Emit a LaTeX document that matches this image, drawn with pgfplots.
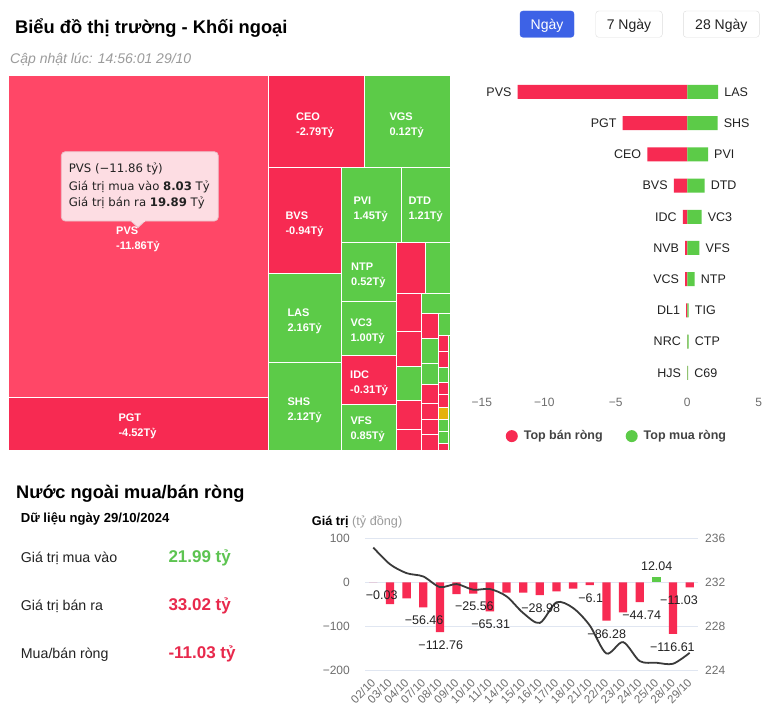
\documentclass[border=0pt]{standalone}
\usepackage{fontspec}
\setmainfont{Liberation Sans}
\newfontfamily\dejavu{DejaVu Sans}
\usepackage{pgfplots}
\pgfplotsset{compat=1.18}
\definecolor{tred}{HTML}{F72A52}
\definecolor{tredh}{HTML}{FF4767}
\definecolor{tgreen}{HTML}{5CCB48}
\definecolor{tyel}{HTML}{E5B20A}
\definecolor{blu}{HTML}{3D62E6}
\definecolor{txtgray}{HTML}{6E6E6E}
\definecolor{lightgray2}{HTML}{9B9B9B}
\definecolor{gridc}{HTML}{E0E6F1}
\definecolor{darktxt}{HTML}{222222}
\definecolor{tipfill}{HTML}{FDDDE3}
\definecolor{tipborder}{HTML}{EBBFC8}
\definecolor{btnborder}{HTML}{DDDDDD}
\definecolor{linec}{HTML}{3A3A3A}
\definecolor{valgreen}{HTML}{5DC451}
\definecolor{valred}{HTML}{E8294C}
\newcommand{\fs}[1]{\fontsize{#1}{#1}\selectfont}
\newcommand{\R}[5]{\addplot[fill=#5, draw=white, line width=0.8pt] coordinates {(#1,#2) (#3,#2) (#3,#4) (#1,#4) (#1,#2)};}
\newcommand{\TL}[4]{\node[anchor=base west, font={\bfseries\fs{11}}, text=white, inner sep=0pt] at (axis cs:#1,#2) {#3};
\node[anchor=base west, font={\bfseries\fs{11}}, text=white, inner sep=0pt] at (axis cs:#1,{#2+15}) {#4};}
\newcommand{\LL}[3]{\node[anchor=east, xshift=-6pt, font=\fs{12.5}, text=darktxt, inner sep=0pt] at (axis cs:#1,#2) {#3};}
\newcommand{\RL}[3]{\node[anchor=west, xshift=6pt, font=\fs{12.5}, text=darktxt, inner sep=0pt] at (axis cs:#1,#2) {#3};}
\newcommand{\VL}[3]{\node[font=\fs{12.5}, text=darktxt, inner sep=0pt] at (axis cs:#1,#2) {#3};}
\begin{document}
\begin{tikzpicture}
% ---------------- page axis (pixel coordinates) ----------------
\begin{axis}[at={(0pt,0pt)}, anchor=south west, scale only axis, width=770pt, height=717pt,
  xmin=0, xmax=770, ymin=0, ymax=717, y dir=reverse, hide axis, clip=false]
\fill[white] (axis cs:0,0) rectangle (axis cs:770,717);
% header
\node[anchor=base west, font={\bfseries\fs{18.3}}, text=black, inner sep=0pt] at (axis cs:15,33.3) {Biểu đồ thị trường - Khối ngoại};
\node[anchor=base west, font={\itshape\fs{14}}, text=lightgray2, inner sep=0pt] at (axis cs:10,63.3) {Cập nhật lúc: 14:56:01 29/10};
\filldraw[fill=blu, draw=blu, rounded corners=3pt] (axis cs:520,11) rectangle (axis cs:574,37.3);
\node[anchor=base, font=\fs{14}, text=white, inner sep=0pt] at (axis cs:547,29.5) {Ngày};
\filldraw[fill=white, draw=btnborder, rounded corners=3pt] (axis cs:595.7,11) rectangle (axis cs:662.3,37.3);
\node[anchor=base, font=\fs{14}, text=darktxt, inner sep=0pt] at (axis cs:629,29.5) {7 Ngày};
\filldraw[fill=white, draw=btnborder, rounded corners=3pt] (axis cs:683.3,11) rectangle (axis cs:759.3,37.3);
\node[anchor=base, font=\fs{14}, text=darktxt, inner sep=0pt] at (axis cs:721.3,29.5) {28 Ngày};
% treemap
\R{8}{75}{268}{397}{tredh}
\R{8}{397}{268}{450}{tred}
\R{268}{75}{364}{167}{tred}
\R{364}{75}{450}{167}{tgreen}
\R{268}{167}{341}{273}{tred}
\R{341}{167}{401}{242}{tgreen}
\R{401}{167}{450}{242}{tgreen}
\R{268}{273}{341}{362}{tgreen}
\R{268}{362}{341}{450}{tgreen}
\R{341}{242}{396}{301}{tgreen}
\R{341}{301}{396}{355}{tgreen}
\R{341}{355}{396}{404}{tred}
\R{341}{404}{396}{450}{tgreen}
\R{396}{242}{425}{293}{tred}
\R{425}{242}{450}{293}{tgreen}
\R{396}{293}{421}{331}{tred}
\R{421}{293}{450}{313}{tgreen}
\R{421}{313}{438}{338}{tred}
\R{438}{313}{450}{335}{tgreen}
\R{396}{331}{421}{366}{tred}
\R{438}{335}{448}{351}{tred}
\R{438}{351}{448}{367}{tred}
\R{421}{338}{438}{363}{tgreen}
\R{396}{366}{421}{400}{tgreen}
\R{421}{363}{438}{384}{tgreen}
\R{438}{367}{448}{382}{tgreen}
\R{421}{384}{438}{403}{tred}
\R{438}{382}{448}{394}{tred}
\R{438}{394}{448}{407}{tred}
\R{438}{407}{448}{419}{tyel}
\R{396}{400}{421}{429}{tred}
\R{396}{429}{421}{450}{tred}
\R{421}{403}{438}{419}{tred}
\R{421}{419}{438}{434}{tred}
\R{421}{434}{438}{450}{tred}
\R{438}{419}{448}{431}{tgreen}
\R{438}{431}{448}{443}{tgreen}
\R{438}{443}{448}{450}{tred}
\R{448}{335}{450}{450}{tgreen}
% treemap labels
\TL{116}{234.3}{PVS}{-11.86Tỷ}
\TL{118.3}{421.5}{PGT}{-4.52Tỷ}
\TL{296}{120.9}{CEO}{-2.79Tỷ}
\TL{389.3}{120.9}{VGS}{0.12Tỷ}
\TL{285.3}{219.2}{BVS}{-0.94Tỷ}
\TL{353.3}{204.2}{PVI}{1.45Tỷ}
\TL{408.3}{204.2}{DTD}{1.21Tỷ}
\TL{351}{270.2}{NTP}{0.52Tỷ}
\TL{287.3}{316.9}{LAS}{2.16Tỷ}
\TL{350.3}{326.9}{VC3}{1.00Tỷ}
\TL{350}{378.2}{IDC}{-0.31Tỷ}
\TL{287.3}{405.2}{SHS}{2.12Tỷ}
\TL{350.3}{424.2}{VFS}{0.85Tỷ}
% tooltip
\filldraw[fill=tipfill, draw=tipborder, rounded corners=4pt, line width=0.8pt] (axis cs:61.3,151.7) rectangle (axis cs:218.3,221);
\filldraw[fill=tipfill, draw=tipborder, line width=0.8pt] (axis cs:131,221) -- (axis cs:138,227.5) -- (axis cs:145,221);
\fill[tipfill] (axis cs:131.5,219.8) rectangle (axis cs:144.5,221.6);
\node[anchor=base west, font={\dejavu\fs{11.7}}, text=darktxt, inner sep=0pt] at (axis cs:68.7,172) {PVS (−11.86 tỷ)};
\node[anchor=base west, font={\dejavu\fs{11.7}}, text=darktxt, inner sep=0pt] at (axis cs:68.7,190) {Giá trị mua vào \textbf{8.03} Tỷ};
\node[anchor=base west, font={\dejavu\fs{11.7}}, text=darktxt, inner sep=0pt] at (axis cs:68.7,206.7) {Giá trị bán ra \textbf{19.89} Tỷ};
% bottom-left block
\node[anchor=base west, font={\bfseries\fs{18.2}}, text=black, inner sep=0pt] at (axis cs:16,498.3) {Nước ngoài mua/bán ròng};
\node[anchor=base west, font={\bfseries\fs{13.1}}, text=black, inner sep=0pt] at (axis cs:20.7,522.7) {Dữ liệu ngày 29/10/2024};
\node[anchor=base west, font=\fs{14.2}, text=darktxt, inner sep=0pt] at (axis cs:20.7,562.5) {Giá trị mua vào};
\node[anchor=base west, font={\bfseries\fs{17}}, text=valgreen, inner sep=0pt] at (axis cs:168.3,562.5) {21.99 tỷ};
\node[anchor=base west, font=\fs{14.2}, text=darktxt, inner sep=0pt] at (axis cs:20.7,610.7) {Giá trị bán ra};
\node[anchor=base west, font={\bfseries\fs{17}}, text=valred, inner sep=0pt] at (axis cs:168.3,610.7) {33.02 tỷ};
\node[anchor=base west, font=\fs{14.2}, text=darktxt, inner sep=0pt] at (axis cs:20.7,658.5) {Mua/bán ròng};
\node[anchor=base west, font={\bfseries\fs{17}}, text=valred, inner sep=0pt] at (axis cs:168.3,658.5) {-11.03 tỷ};
\node[anchor=base west, font=\fs{12.7}, text=black, inner sep=0pt] at (axis cs:311.7,525.5) {\textbf{Giá trị} \textcolor{lightgray2}{(tỷ đồng)}};
\end{axis}
% ---------------- top buy/sell horizontal bars ----------------
\begin{axis}[at={(472.8pt,328.6pt)}, anchor=south west, scale only axis, width=286pt, height=312pt,
  xmin=-15, xmax=5, ymin=-0.5, ymax=9.5, y dir=reverse, clip=false,
  axis line style={draw=none}, major tick length=0pt, ytick=\empty,
  xtick={-15,-10,-5,0,5}, xticklabels={\hspace{18pt}−15,−10,−5,0,5\hspace{6pt}},
  xticklabel style={font=\fs{12}, text=txtgray, inner sep=0pt, yshift=-10pt},
  legend style={at={(axis cs:-4.92,11.03)}, anchor=center, draw=none, fill=none, font={\bfseries\fs{12.5}}, text=darktxt!85,
    legend columns=2, /tikz/every even column/.append style={column sep=21pt}},
  legend cell align=left]
\addplot[xbar, bar width=14pt, bar shift=0pt, fill=tred, draw=none, forget plot] coordinates {(-11.86,0) (-4.52,1) (-2.79,2) (-0.94,3) (-0.31,4) (-0.15,5) (-0.15,6) (-0.08,7) (-0.02,8) (-0.01,9)};
\addplot[xbar, bar width=14pt, bar shift=0pt, fill=tgreen, draw=none, forget plot] coordinates {(2.16,0) (2.12,1) (1.45,2) (1.21,3) (1.00,4) (0.85,5) (0.52,6) (0.10,7) (0.10,8) (0.06,9)};
\addlegendimage{legend image code/.code={\path[draw=none, fill=none] (-6pt,-6pt) rectangle (10pt,6pt); \fill[tred, draw=none] (0pt,0pt) circle (6pt);}}
\addlegendentry{Top bán ròng}
\addlegendimage{legend image code/.code={\path[draw=none, fill=none] (-6pt,-6pt) rectangle (10pt,6pt); \fill[tgreen, draw=none] (0pt,0pt) circle (6pt);}}
\addlegendentry{Top mua ròng}
\LL{-11.86}{0}{PVS}\LL{-4.52}{1}{PGT}\LL{-2.79}{2}{CEO}\LL{-0.94}{3}{BVS}\LL{-0.31}{4}{IDC}
\LL{-0.15}{5}{NVB}\LL{-0.15}{6}{VCS}\LL{-0.08}{7}{DL1}\LL{-0.02}{8}{NRC}\LL{-0.01}{9}{HJS}
\RL{2.16}{0}{LAS}\RL{2.12}{1}{SHS}\RL{1.45}{2}{PVI}\RL{1.21}{3}{DTD}\RL{1.00}{4}{VC3}
\RL{0.85}{5}{VFS}\RL{0.52}{6}{NTP}\RL{0.10}{7}{TIG}\RL{0.10}{8}{CTP}\RL{0.06}{9}{C69}
\end{axis}
% ---------------- bottom: net value bars ----------------
\begin{axis}[at={(365pt,46.3pt)}, anchor=south west, scale only axis, width=333pt, height=132.4pt,
  xmin=-0.5, xmax=19.5, ymin=-200, ymax=100, clip=false,
  axis line style={draw=none}, major tick length=0pt,
  ytick={-200,-100,0,100}, yticklabels={−200,−100,0,100},
  ymajorgrids, grid style={gridc, line width=0.8pt},
  xtick={0,...,19},
  xticklabels={02/10,03/10,04/10,07/10,08/10,09/10,10/10,11/10,14/10,15/10,16/10,17/10,18/10,21/10,22/10,23/10,24/10,25/10,28/10,29/10},
  xticklabel style={rotate=45, anchor=east, font=\fs{11.5}, text=txtgray, inner sep=0pt},
  xticklabel shift=10pt,
  yticklabel style={font=\fs{12}, text=txtgray, inner sep=0pt, xshift=-15pt}]
\addplot[ybar, bar width=8.3pt, bar shift=0pt, fill=tred, draw=none] coordinates {(0,-0.03) (1,-48.9) (2,-36.1) (3,-56.46) (4,-112.76) (5,-26.3) (6,-25.56) (7,-65.31) (8,-23.3) (9,-23.3) (10,-28.98) (11,-20.3) (12,-14.3) (13,-6.1) (14,-86.28) (15,-67.7) (16,-44.74) (18,-116.61) (19,-11.03)};
\addplot[ybar, bar width=8.3pt, bar shift=0pt, fill=tgreen, draw=none] coordinates {(17,12.04)};
\end{axis}
% ---------------- bottom: index line (right axis) ----------------
\begin{axis}[at={(365pt,46.3pt)}, anchor=south west, scale only axis, width=333pt, height=132.4pt,
  xmin=-0.5, xmax=19.5, ymin=224, ymax=236, clip=false,
  axis line style={draw=none}, major tick length=0pt, xtick=\empty,
  ytick={224,228,232,236}, yticklabels={224,228,232,236}, yticklabel pos=right,
  yticklabel style={font=\fs{12}, text=txtgray, inner sep=0pt, anchor=west, xshift=7pt}]
\addplot[smooth, tension=0.5, color=linec, line width=1.8pt, mark=none] coordinates {(0,235.16) (1,233.65) (2,232.84) (3,232.54) (4,231.58) (5,231.85) (6,231.34) (7,231.4) (8,230.74) (9,229.23) (10,228.33) (11,230.2) (12,229.68) (13,228.1) (14,225.56) (15,226.59) (16,224.87) (17,224.72) (18,224.63) (19,225.62)};
\end{axis}
% ---------------- bottom: value labels ----------------
\begin{axis}[at={(365pt,46.3pt)}, anchor=south west, scale only axis, width=333pt, height=132.4pt,
  xmin=-0.5, xmax=19.5, ymin=-200, ymax=100, clip=false, hide axis]
\VL{0.5}{-27.9}{−0.03}
\VL{3.05}{-86.1}{−56.46}
\VL{4.05}{-141.2}{−112.76}
\VL{6.07}{-54.4}{−25.56}
\VL{7.05}{-93.6}{−65.31}
\VL{10.05}{-58.0}{−28.98}
\VL{13.05}{-35.4}{−6.1}
\VL{14.02}{-116.9}{−86.28}
\VL{16.12}{-73.2}{−44.74}
\VL{17.02}{36.3}{12.04}
\VL{17.96}{-146.4}{−116.61}
\VL{18.36}{-39.2}{−11.03}
\end{axis}
\end{tikzpicture}
\end{document}
